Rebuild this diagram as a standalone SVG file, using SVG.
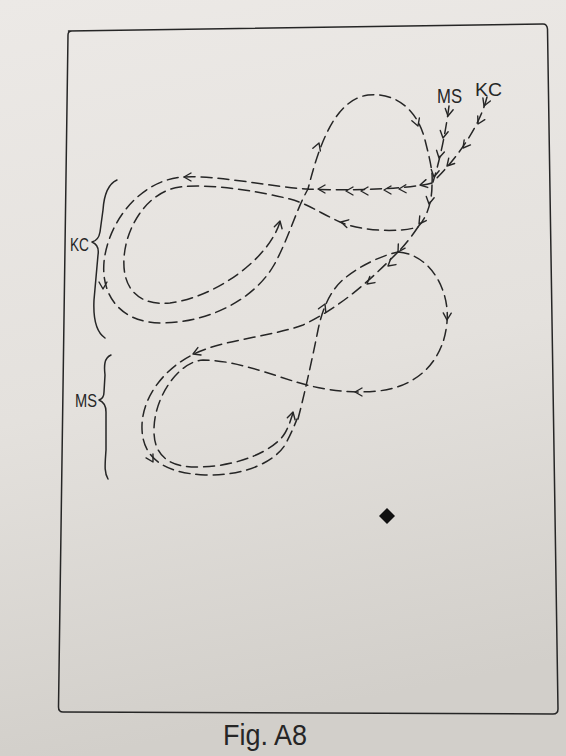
<svg xmlns="http://www.w3.org/2000/svg" xmlns:xlink="http://www.w3.org/1999/xlink" width="566" height="756" viewBox="0 0 566 756">
<defs>
<linearGradient id="paper" x1="0" y1="0" x2="0.15" y2="1">
<stop offset="0" stop-color="#ece9e6"/>
<stop offset="0.55" stop-color="#e4e1dd"/>
<stop offset="1" stop-color="#d2cfca"/>
</linearGradient>
<path id="ah" d="M-7,-4 L0,0 L-7,4" fill="none" stroke="#262626" stroke-width="1.4" stroke-linecap="round" stroke-linejoin="round"/>
<style>
.dash{fill:none;stroke:#262626;stroke-width:1.5;stroke-dasharray:11 6;stroke-linecap:round}
.ink{fill:none;stroke:#262626;stroke-width:1.5;stroke-linecap:round;stroke-linejoin:round}
.lbl{font-family:"Liberation Sans","DejaVu Sans",sans-serif;fill:#262626}
</style>
</defs>
<rect x="0" y="0" width="566" height="756" fill="url(#paper)"/>
<g id="frame">
<path class="ink" d="M68.5,31 L543,24 Q547,24 547.5,29 L558,709 Q558,714 553,714 L63,712 Q58.5,712 58.5,707 L68,35 Q68,31 72,31"/>
</g>
<g id="connectors">
<path id="kc-feed" class="dash" d="M487,97 C480,125 460,155 433,182"/>
<path id="ms-feed" class="dash" d="M449,106 C446,130 440,160 433,182"/>
<path id="kc-outer" class="dash" d="M432,183 C410,189 350,191 308,189 C270,187 220,175 183,177 C140,180 108,222 104,262 C101,295 120,323 162,323 C212,322 255,298 274,265 C288,240 296,210 308,189 C318,150 333,100 368,95 C398,92 418,112 425,140 C430,160 433,172 432,183"/>
<path id="kc-inner" class="dash" d="M432,185 C432,200 428,216 418,227 C398,233 360,231 340,222 C322,214 306,203 290,199 C265,193 215,183 180,187 C148,191 126,226 124,258 C122,290 140,306 170,303 C215,297 268,260 280,222"/>
<path id="ms-link" class="dash" d="M418,227 C412,236 405,245 398,252"/>
<path id="ms-outer" class="dash" d="M398,252 C376,274 345,305 303,325 C270,337 220,340 192,355 C166,368 143,395 142,425 C141,455 160,473 205,475 C245,476 274,462 285,445 C292,432 295,424 297,419"/>
<path id="ms-inner" class="dash" d="M398,252 C430,254 450,290 447,322 C444,360 418,387 378,391 C350,394 322,389 307,385 C285,380 240,360 203,360 C180,361 155,395 154,428 C153,455 168,468 200,467 C240,466 275,450 285,433 C289,426 291,419 293,413"/>
<path id="ms-up" class="dash" d="M298,419 C303,400 311,365 318,330 C322,310 330,290 345,278 C360,266 380,256 398,252"/>
<g id="arrowheads">
<use xlink:href="#ah" transform="translate(448,116) rotate(100)"/>
<use xlink:href="#ah" transform="translate(443,138) rotate(100)"/>
<use xlink:href="#ah" transform="translate(439,158) rotate(102)"/>
<use xlink:href="#ah" transform="translate(434,177) rotate(100)"/>
<use xlink:href="#ah" transform="translate(484,106) rotate(112)"/>
<use xlink:href="#ah" transform="translate(478,124) rotate(118)"/>
<use xlink:href="#ah" transform="translate(463,148) rotate(128)"/>
<use xlink:href="#ah" transform="translate(447,166) rotate(132)"/>
<use xlink:href="#ah" transform="translate(420,185) rotate(168)"/>
<use xlink:href="#ah" transform="translate(399,189) rotate(178)"/>
<use xlink:href="#ah" transform="translate(384,190) rotate(180)"/>
<use xlink:href="#ah" transform="translate(361,191) rotate(180)"/>
<use xlink:href="#ah" transform="translate(346,191) rotate(180)"/>
<use xlink:href="#ah" transform="translate(318,189) rotate(180)"/>
<use xlink:href="#ah" transform="translate(429,204) rotate(100)"/>
<use xlink:href="#ah" transform="translate(419,224) rotate(125)"/>
<use xlink:href="#ah" transform="translate(341,222) rotate(194)"/>
<use xlink:href="#ah" transform="translate(184,177) rotate(180)"/>
<use xlink:href="#ah" transform="translate(103,289) rotate(90)"/>
<use xlink:href="#ah" transform="translate(319,143) rotate(290)"/>
<use xlink:href="#ah" transform="translate(418,126) rotate(70)"/>
<use xlink:href="#ah" transform="translate(280,221) rotate(285)"/>
<use xlink:href="#ah" transform="translate(398,252) rotate(122)"/>
<use xlink:href="#ah" transform="translate(388,266) rotate(140)"/>
<use xlink:href="#ah" transform="translate(367,284) rotate(140)"/>
<use xlink:href="#ah" transform="translate(193,354) rotate(157)"/>
<use xlink:href="#ah" transform="translate(153,462) rotate(60)"/>
<use xlink:href="#ah" transform="translate(447,320) rotate(92)"/>
<use xlink:href="#ah" transform="translate(355,392) rotate(180)"/>
<use xlink:href="#ah" transform="translate(325,304) rotate(294)"/>
<use xlink:href="#ah" transform="translate(293,412) rotate(285)"/>
</g>
</g>
<g id="brace-kc">
<path class="ink" d="M117,180 C108,184 104,195 103,210 L100,232 C99,238 96,241 92,242 C97,244 99,249 98,255 L94,300 C93,320 96,332 105,338"/>
<text class="lbl" x="70" y="251" font-size="19" textLength="19" lengthAdjust="spacingAndGlyphs">KC</text>
</g>
<g id="brace-ms">
<path class="ink" d="M111,355 C104,358 104,366 105,375 L104,392 C104,397 102,399 99,400 C104,402 106,406 106,412 L106,450 C105,465 104,472 108,479"/>
<text class="lbl" x="75" y="407" font-size="19" textLength="22" lengthAdjust="spacingAndGlyphs">MS</text>
</g>
<g id="label-ms-top">
<text class="lbl" x="437" y="103" font-size="20" textLength="25" lengthAdjust="spacingAndGlyphs">MS</text>
</g>
<g id="label-kc-top">
<text class="lbl" x="475" y="96" font-size="18" textLength="27" lengthAdjust="spacingAndGlyphs">KC</text>
</g>
<g id="marker-diamond">
<polygon points="387,508 395,516 387,524 379,516" fill="#111"/>
</g>
<g id="caption">
<text class="lbl" x="223" y="745" font-size="29" textLength="84" lengthAdjust="spacingAndGlyphs">Fig. A8</text>
</g>
</svg>
